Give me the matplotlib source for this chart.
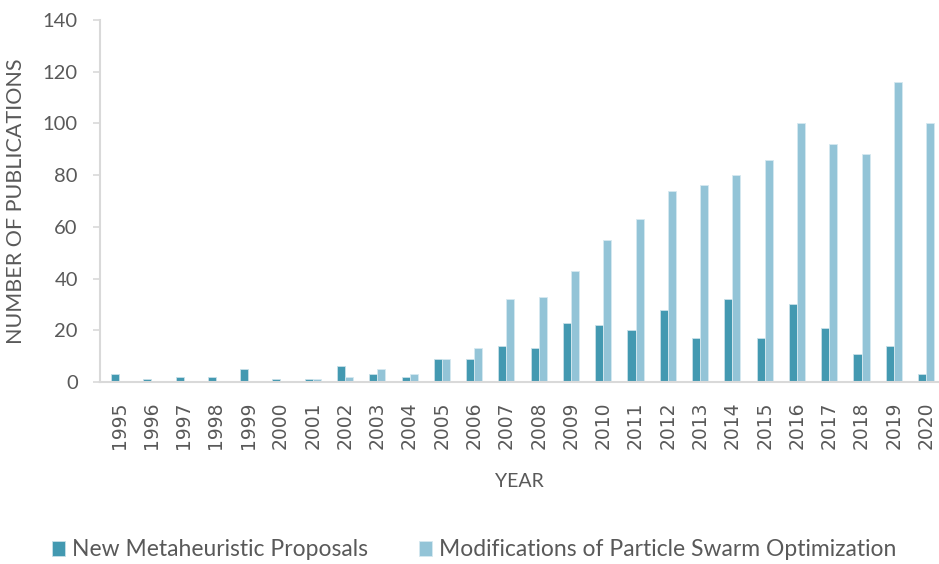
import matplotlib
matplotlib.use("Agg")
import matplotlib.pyplot as plt
import numpy as np

years = [str(y) for y in range(1995, 2021)]
new_meta = [3, 1, 2, 2, 5, 1, 1, 6, 3, 2, 9, 9, 14, 13, 23, 22, 20, 28, 17, 32, 17, 30, 21, 11, 14, 3]
pso_mods = [0, 0, 0, 0, 0, 0, 1, 2, 5, 3, 9, 13, 32, 33, 43, 55, 63, 74, 76, 80, 86, 100, 92, 88, 116, 100]
series_names = ["New Metaheuristic Proposals", "Modifications of Particle Swarm Optimization"]

c_dark = "#4399b1"
c_light = "#93c4d7"
txt = "#595959"
axc = "#d9d9d9"

plt.rcParams['font.family'] = ['Lato', 'DejaVu Sans']

fig = plt.figure(figsize=(9.39, 5.64), dpi=100)
ax = fig.add_axes([100/939, 182/564, 839/939, 362/564])

x = np.arange(len(years))
w = 0.25
ax.bar(x - w/2, new_meta, w, color=c_dark, edgecolor="#c8e0e8", linewidth=0.6, label=series_names[0])
ax.bar(x + w/2, pso_mods, w, color=c_light, edgecolor="#d6e9f0", linewidth=0.6, label=series_names[1])

ax.set_xlim(-0.59, 25.4)
ax.set_ylim(0, 140)
ax.set_yticks(range(0, 141, 20))
ax.set_xticks(x)
ax.set_xticklabels(years, rotation=90, family=['DejaVu Sans'])

for s in ["top", "right"]:
    ax.spines[s].set_visible(False)
for s in ["left", "bottom"]:
    ax.spines[s].set_color(axc)
    ax.spines[s].set_linewidth(1.5)

ax.tick_params(axis="y", colors=axc, labelcolor=txt, labelsize=14.5, length=5, width=1.2, pad=11)
ax.tick_params(axis="x", length=0, labelcolor=txt, labelsize=13.5, pad=14)

ax.set_xlabel("YEAR", color=txt, fontsize=14, labelpad=17)
ax.set_ylabel("NUMBER OF PUBLICATIONS", color=txt, fontsize=15.5, labelpad=12)

leg = fig.legend(loc="center", bbox_to_anchor=(0.505, (564-550)/564), ncol=2, frameon=False,
                 fontsize=16.5, handlelength=0.6, handleheight=0.6, handletextpad=0.3, columnspacing=2.2)
for t in leg.get_texts():
    t.set_color(txt)

fig.savefig("out.png", dpi=100)
